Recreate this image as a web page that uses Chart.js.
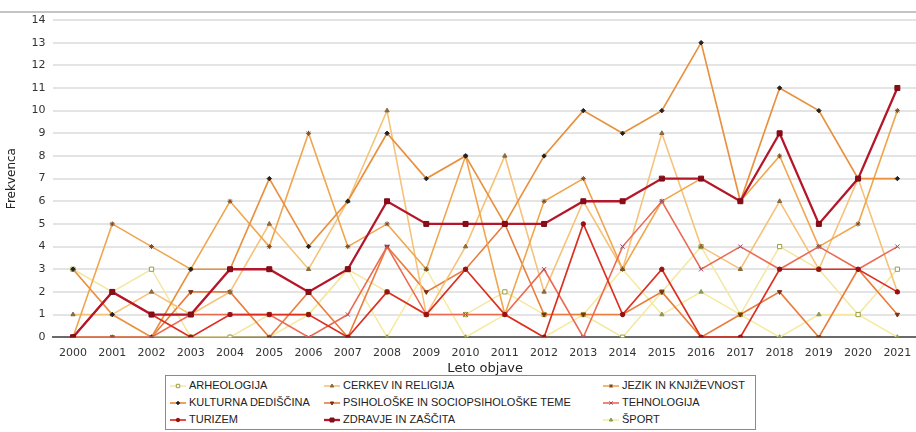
<!DOCTYPE html>
<html><head><meta charset="utf-8">
<script src="https://cdn.jsdelivr.net/npm/chart.js@4"></script>
<style>
html,body{margin:0;padding:0;background:#fff;}
#wrap{position:relative;width:916px;height:432px;overflow:hidden;font-family:"DejaVu Sans",sans-serif;}
#topline{position:absolute;left:0;top:11px;width:916px;height:2px;background:#c4c4c4;}
#cv{position:absolute;left:0;top:0;}
#legend{position:absolute;left:165px;top:375px;width:591px;height:55px;border:1px solid #8a8a8a;box-sizing:border-box;font-family:"Liberation Sans",sans-serif;font-size:11px;color:#222;background:#fff;}
.li{position:absolute;height:16px;line-height:16px;white-space:nowrap;}
.li canvas{vertical-align:middle;margin-right:3px;}
</style></head>
<body><div id="wrap"><canvas id="cv" width="922" height="378"></canvas><div id="topline"></div><div id="legend"></div></div>
<script>
const years = ["2000","2001","2002","2003","2004","2005","2006","2007","2008","2009","2010","2011","2012","2013","2014","2015","2016","2017","2018","2019","2020","2021"];
const arheologija = [3,2,3,0,0,1,1,3,2,1,1,2,1,1,0,2,4,1,4,3,1,3];
const cerkev      = [1,1,2,1,2,5,3,6,10,1,4,8,2,6,3,9,4,3,6,3,7,2];
const jezik       = [0,5,4,3,6,4,9,4,5,3,8,1,6,7,3,6,7,6,8,4,5,10];
const kulturna    = [3,1,0,3,3,7,4,6,9,7,8,5,8,10,9,10,13,6,11,10,7,7];
const psiholoske  = [0,0,0,2,2,0,2,0,4,2,3,5,1,1,1,2,0,1,2,0,3,1];
const tehnologija = [0,0,0,1,1,1,0,1,4,1,1,1,3,0,4,6,3,4,3,4,3,4];
const turizem     = [0,2,1,0,1,1,1,0,2,1,3,1,0,5,1,3,0,0,3,3,3,2];
const zdravje     = [0,2,1,1,3,3,2,3,6,5,5,5,5,6,6,7,7,6,9,5,7,11];
const sport       = [0,0,0,0,0,0,1,3,0,3,0,1,0,1,3,1,2,1,0,1,1,0];
const yTicks = [0,1,2,3,4,5,6,7,8,9,10,11,12,13,14];

const series = [
 {label:"ARHEOLOGIJA", data:arheologija, color:"#f3e7a2", pcol:"#9aa23a", pfill:"#ffffff", style:"rect", r:3, w:1.5, order:7},
 {label:"CERKEV IN RELIGIJA", data:cerkev, color:"#f6c27a", pcol:"#8a6a3a", pfill:"#8a6a3a", style:"triangle", r:2.5, w:1.6, order:5},
 {label:"JEZIK IN KNJIŽEVNOST", data:jezik, color:"#f0a64e", pcol:"#7a4a20", pfill:"#7a4a20", style:"star", r:2.5, w:1.6, order:4},
 {label:"KULTURNA DEDIŠČINA", data:kulturna, color:"#e9913f", pcol:"#222222", pfill:"#222222", style:"rectRot", r:2.2, w:1.7, order:3},
 {label:"PSIHOLOŠKE IN SOCIOPSIHOLOŠKE TEME", data:psiholoske, color:"#ea7c3c", pcol:"#7a3010", pfill:"#7a3010", style:"triangle", rot:180, r:2.5, w:1.6, order:6},
 {label:"TEHNOLOGIJA", data:tehnologija, color:"#ec6a52", pcol:"#9a4a6a", pfill:"#9a4a6a", style:"crossRot", r:3, w:1.6, order:2},
 {label:"TURIZEM", data:turizem, color:"#dc2f22", pcol:"#9a0f10", pfill:"#9a0f10", style:"circle", r:2.2, w:1.7, order:1},
 {label:"ZDRAVJE IN ZAŠČITA", data:zdravje, color:"#b5172a", pcol:"#7a0a14", pfill:"#8a0c18", style:"rect", r:3.5, w:2.3, order:0},
 {label:"ŠPORT", data:sport, color:"#f7ea9e", pcol:"#8a9a50", pfill:"#8a9a50", style:"triangle", r:2.5, w:1.5, order:8}
];

const datasets = series.map(s => ({
  label:s.label, data:s.data, borderColor:s.color, backgroundColor:s.pfill,
  pointBorderColor:s.pcol, pointBackgroundColor:s.pfill, pointStyle:s.style,
  pointRotation:s.rot||0, pointRadius:s.r, pointBorderWidth:1, borderWidth:s.w,
  tension:0, order:s.order
}));

new Chart(document.getElementById('cv'), {
  type:'line',
  data:{labels:years, datasets},
  options:{
    responsive:false, animation:false, devicePixelRatio:1,
    layout:{padding:{top:20,right:0,left:5,bottom:2}},
    plugins:{legend:{display:false}, tooltip:{enabled:false}},
    scales:{
      x:{offset:true, grid:{display:false, drawTicks:true, tickLength:4},
         border:{display:true,color:'#6a6a6a',width:2},
         ticks:{color:'#333',font:{family:'DejaVu Sans',size:11},maxRotation:0,autoSkip:false,padding:5},
         title:{display:true,text:'Leto objave',color:'#222',font:{family:'DejaVu Sans',size:13},padding:{top:-4,bottom:0}}},
      y:{min:0,max:14,afterBuildTicks:(ax)=>{ax.ticks=yTicks.map(v=>({value:v}));},
         grid:{color:'#e4e4e4',lineWidth:2,drawTicks:false},
         border:{display:false},
         ticks:{color:'#333',font:{family:'DejaVu Sans',size:11},padding:8},
         title:{display:true,text:'Frekvenca',color:'#222',font:{family:'DejaVu Sans',size:12},padding:{top:0,bottom:4}}}
    }
  }
});

// legend
const leg = document.getElementById('legend');
const colX = [4, 158, 437];
series.forEach((s,i)=>{
  const d = document.createElement('div'); d.className='li';
  d.style.left = colX[i%3]+'px'; d.style.top = (1+Math.floor(i/3)*17)+'px';
  const c = document.createElement('canvas'); c.width=16; c.height=10;
  const g = c.getContext('2d');
  g.strokeStyle=s.color; g.lineWidth=s.w; g.beginPath(); g.moveTo(0,5); g.lineTo(16,5); g.stroke();
  g.fillStyle=s.pfill; g.strokeStyle=s.pcol; g.lineWidth=1;
  Chart.helpers.drawPoint(g,{pointStyle:s.style,radius:s.r*0.8,rotation:s.rot||0,borderWidth:1},8,5);
  d.appendChild(c); d.appendChild(document.createTextNode(s.label));
  leg.appendChild(d);
});
</script></body></html>
